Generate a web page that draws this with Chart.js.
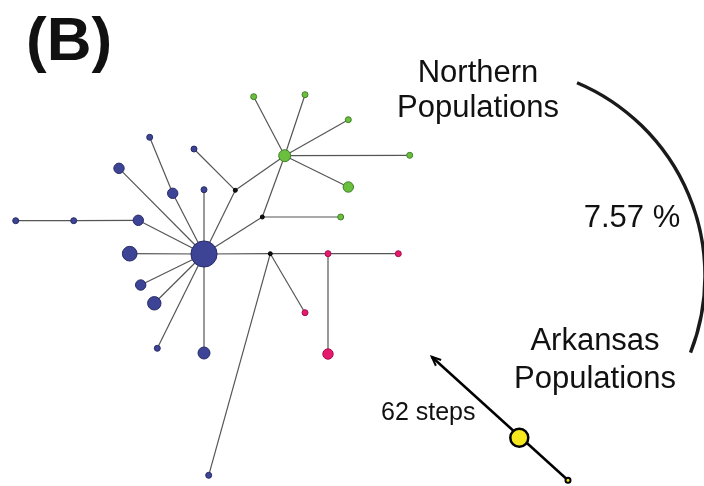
<!DOCTYPE html>
<html>
<head>
<meta charset="utf-8">
<style>
  body { margin: 0; background: #fff; }
  #wrap { width: 704px; height: 486px; position: relative; }
</style>
<script src="https://cdn.jsdelivr.net/npm/chart.js@4.4.1/dist/chart.umd.min.js"></script>
</head>
<body>
<div id="wrap"><canvas id="network"></canvas></div>
<script>
// Haplotype network data (layout units, y grows downwards)
const nodeX = [204, 129.7, 138.3, 73.7, 15.7, 119, 172.7, 149.7, 204, 194, 235.3, 262.3, 270.3, 284.7, 253.7, 305, 348.3, 409.7, 348.3, 340.7, 328, 398.3, 305, 328, 140.7, 154.3, 157.3, 204, 208.7];
const nodeY = [254, 253.7, 220.3, 220.7, 220.7, 168.3, 193.3, 137.3, 189.7, 149, 190.3, 217, 253.7, 155.7, 96.7, 94.7, 119.7, 155.3, 187, 217, 253.7, 253.7, 312.7, 354, 285, 303.3, 348.3, 353, 475.3];
// haplotype counts (0 = median vector)
const nodeCount = [19, 6, 3, 1, 1, 3, 3, 1, 1, 1, 0, 0, 0, 4, 1, 1, 1, 1, 3, 1, 1, 1, 1, 3, 3, 5, 1, 4, 1];
const nodeGroup = ['S', 'S', 'S', 'S', 'S', 'S', 'S', 'S', 'S', 'S', 'M', 'M', 'M', 'N', 'N', 'N', 'N', 'N', 'N', 'N', 'P', 'P', 'P', 'P', 'S', 'S', 'S', 'S', 'S'];
const edgeFrom = [0, 0, 2, 3, 0, 0, 6, 0, 0, 10, 10, 0, 11, 11, 0, 12, 20, 20, 12, 12, 13, 13, 13, 13, 13, 0, 0, 0, 0];
const edgeTo   = [1, 2, 3, 4, 5, 6, 7, 8, 10, 9, 13, 11, 13, 19, 12, 20, 21, 23, 22, 28, 14, 15, 16, 17, 18, 24, 25, 26, 27];

// Arkansas haplotypes
const arkX = [519.3, 568];
const arkY = [437.7, 480.3];
const arkCount = [9, 0];
const arrowTip = [431.7, 356.7];

const fills = { S: '#3d4496', M: '#111111', N: '#6bbf3f', P: '#e6196e' };
const strokes = { S: '#272b66', M: '#000000', N: '#3f7f27', P: '#a3104c' };

function radius(n) {
  return n === 0 ? 2 : 3 * Math.sqrt(n);
}

const datasets = [];

// nodes
datasets.push({
  data: nodeX.map((x, i) => ({ x: x, y: nodeY[i] })),
  pointRadius: nodeCount.map(radius),
  pointBackgroundColor: nodeGroup.map(g => fills[g]),
  pointBorderColor: nodeGroup.map(g => strokes[g]),
  pointBorderWidth: 1,
  showLine: false,
  order: 0
});

// edges
edgeFrom.forEach((a, i) => {
  const b = edgeTo[i];
  datasets.push({
    data: [{ x: nodeX[a], y: nodeY[a] }, { x: nodeX[b], y: nodeY[b] }],
    showLine: true,
    borderColor: '#555555',
    borderWidth: 1.2,
    pointRadius: 0,
    order: 2
  });
});

// Arkansas nodes and the long branch arrow
datasets.push({
  data: arkX.map((x, i) => ({ x: x, y: arkY[i] })),
  pointRadius: [9, 2.5],
  pointBackgroundColor: '#f5e61e',
  pointBorderColor: '#000000',
  pointBorderWidth: [2.5, 2],
  showLine: false,
  order: 0
});
datasets.push({
  data: [{ x: arkX[1], y: arkY[1] }, { x: arrowTip[0], y: arrowTip[1] }],
  showLine: true,
  borderColor: '#000000',
  borderWidth: 2.5,
  pointRadius: 0,
  order: 1
});

const decorations = {
  id: 'decorations',
  afterDraw(chart) {
    const { ctx, scales } = chart;
    const px = v => scales.x.getPixelForValue(v);
    const py = v => scales.y.getPixelForValue(v);
    ctx.save();

    // arrowhead
    const x1 = px(arkX[1]), y1 = py(arkY[1]);
    const x2 = px(arrowTip[0]), y2 = py(arrowTip[1]);
    const ang = Math.atan2(y2 - y1, x2 - x1);
    ctx.strokeStyle = '#000';
    ctx.lineWidth = 2;
    ctx.beginPath();
    ctx.moveTo(x2 - 10 * Math.cos(ang - 0.4), y2 - 10 * Math.sin(ang - 0.4));
    ctx.lineTo(x2, y2);
    ctx.lineTo(x2 - 10 * Math.cos(ang + 0.4), y2 - 10 * Math.sin(ang + 0.4));
    ctx.stroke();

    // divergence arc
    ctx.lineWidth = 3.4;
    ctx.strokeStyle = '#1a1a1a';
    ctx.beginPath();
    ctx.arc(px(495), py(276), 210, -67 * Math.PI / 180, 21.4 * Math.PI / 180);
    ctx.stroke();

    // labels
    ctx.fillStyle = '#111';
    ctx.textBaseline = 'alphabetic';
    ctx.font = 'bold 62px "Liberation Sans", Arial, sans-serif';
    ctx.textAlign = 'left';
    ctx.fillText('(B)', 26, 60);

    ctx.font = '31px "Liberation Sans", Arial, sans-serif';
    ctx.textAlign = 'center';
    ctx.fillText('Northern', 478, 82);
    ctx.fillText('Populations', 478, 117);
    ctx.fillText('7.57 %', 632, 227);
    ctx.fillText('Arkansas', 595, 350);
    ctx.fillText('Populations', 595, 388);

    ctx.font = '25px "Liberation Sans", Arial, sans-serif';
    ctx.textAlign = 'left';
    ctx.fillText('62 steps', 381, 420);
    ctx.restore();
  }
};

new Chart(document.getElementById('network'), {
  type: 'scatter',
  data: { datasets: datasets },
  options: {
    responsive: true,
    maintainAspectRatio: false,
    animation: false,
    events: [],
    layout: { padding: 0, autoPadding: false },
    plugins: { legend: { display: false }, tooltip: { enabled: false } },
    scales: {
      x: { type: 'linear', min: 0, max: 704, display: false },
      y: { type: 'linear', min: 0, max: 486, reverse: true, display: false }
    }
  },
  plugins: [decorations]
});
</script>
</body>
</html>
